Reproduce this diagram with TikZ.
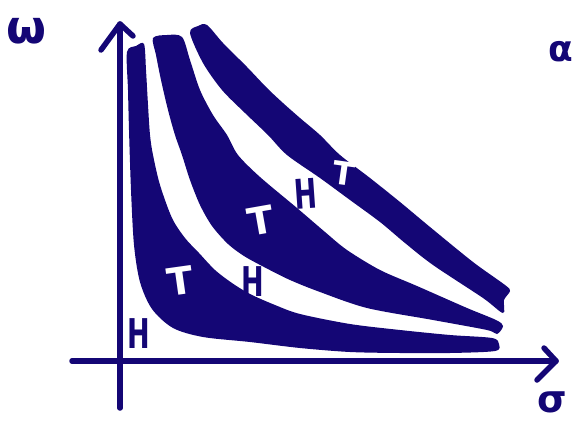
\documentclass[tikz,border=0pt]{standalone}
\usepackage{fontspec}
\setmainfont{DejaVu Sans}
\usepackage{xcolor}
\usepackage{tikz}
\usetikzlibrary{calc}
\definecolor{ink}{HTML}{140675}
\tikzset{
  axis/.style    = {draw=ink, line width=5.5pt, line cap=round, line join=round},
  band/.style    = {fill=ink},
  hmark/.style   = {text=ink, inner sep=0pt, font=\fontsize{41}{41}\selectfont\bfseries},
  tmark/.style   = {text=white, inner sep=0pt, font=\fontsize{38}{38}\selectfont\bfseries},
  axlabel/.style = {text=ink, inner sep=0pt, font=\fontsize{46}{46}\selectfont\bfseries},
}
\newcommand{\slimH}{\scalebox{0.66}[1]{H}}

\begin{document}
\begin{tikzpicture}[x=1pt, y=-1pt]
  \useasboundingbox (0,0) rectangle (578,423);

  % the three bands
  \fill[band] plot[smooth cycle, tension=0.5] coordinates {
    (127,52) (136,46) (144,44) (146,70) (148,105) (150,135) (153,155) (160,185)
    (172,218) (185,238) (199,253) (215,270) (232,283) (250,294) (275,305) (300,314)
    (350,324) (400,330) (450,335) (492,338) (499,344) (495,351) (450,353) (400,353)
    (350,352) (300,348) (250,342) (203,337) (173,328) (152,309) (140,282) (134,245)
    (131,190) (129,130) (128,90)};
  \fill[band] plot[smooth cycle, tension=0.5] coordinates {
    (156,55) (153,38) (167,35) (182,37) (190,60) (200,90) (213,115) (227,135)
    (238,155) (260,177) (297,208) (325,232) (347,250) (380,270) (417,286) (467,308)
    (496,320) (503,326) (497,334) (487,330) (433,320) (367,308) (320,292) (290,280)
    (264,267) (244,256) (228,244) (212,226) (200,205) (190,180) (182,155) (175,135)
    (168,110) (161,80)};
  \fill[band] plot[smooth cycle, tension=0.5] coordinates {
    (190,33) (198,26) (207,25) (223,43) (247,67) (267,88) (283,103) (300,118)
    (320,135) (340,155) (370,178) (400,202) (430,227) (473,262) (505,285) (510,291)
    (504,300) (503,313) (483,298) (433,265) (405,243) (380,222) (350,200) (320,178)
    (287,155) (268,135) (245,113) (222,90) (203,63)};

  % letters on and between the bands
  \node[hmark] (hlow)  at (139,334) {\slimH};
  \node[tmark, rotate=8]  (tlow)  at (180,281) {T};
  \node[hmark] (hmid)  at (253,282) {\slimH};
  \node[tmark, rotate=10] (tmid)  at (261,221) {T};
  \node[hmark, rotate=4]  (hhigh) at (306,194) {\slimH};
  \node[tmark, rotate=-8, font=\fontsize{32}{32}\selectfont\bfseries] (thigh) at (344,173) {T};

  % axes
  \coordinate (yfoot) at (120,408);
  \coordinate (ytop)  at (120,24);
  \coordinate (ybarbl) at (101,50);
  \coordinate (ybarbr) at (133,36);
  \coordinate (xfoot) at (72,361);
  \coordinate (xtop)  at (556,361);
  \coordinate (xbarbu) at (544,348);
  \coordinate (xbarbd) at (537,380);
  \draw[axis] (yfoot) -- (ytop);
  \draw[axis] (ybarbl) -- (ytop) -- (ybarbr);
  \draw[axis] (xfoot) -- (xtop);
  \draw[axis] (xbarbu) -- (xtop) -- (xbarbd);

  \node[axlabel] (omega) at (26,31)  {ω};
  \node[axlabel, font=\fontsize{38}{38}\selectfont\bfseries] (sigma) at (552,402) {σ};
  \node[axlabel, font=\fontsize{36}{36}\selectfont\bfseries] (alpha) at (561,52) {α};
\end{tikzpicture}
\end{document}
